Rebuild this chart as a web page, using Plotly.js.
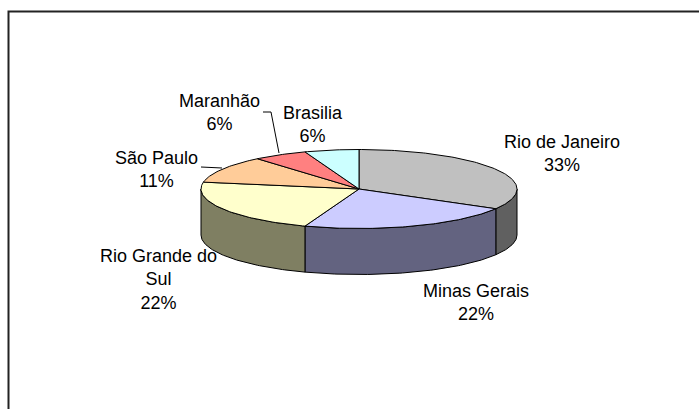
<!DOCTYPE html>
<html>
<head>
<meta charset="utf-8">
<script src="https://cdn.plot.ly/plotly-3.0.1.min.js"></script>
<style>
html,body{margin:0;padding:0;background:#fff;}
#chart{width:699px;height:409px;}
</style>
</head>
<body>
<div id="chart"></div>
<script>
// ---- data ----
const categories = ['Rio de Janeiro', 'Minas Gerais', 'Rio Grande do Sul', 'São Paulo', 'Maranhão', 'Brasilia'];
const values = [6, 4, 4, 2, 1, 1];
const labelLines = ['Rio de Janeiro', 'Minas Gerais', 'Rio Grande do<br>Sul', 'São Paulo', 'Maranhão', 'Brasilia'];

// ---- styles / geometry ----
const topColors = ['#C0C0C0', '#CCCCFF', '#FFFFCC', '#FFCC99', '#FF8080', '#CCFFFF'];
const sideColors = ['#606060', '#636380', '#7F7F62', '#806650', '#804040', '#668080'];
const labelPos = [[562, 153.5], [476, 302.5], [158, 279], [156, 169], [219, 112], [313, 124]];
const geo = {cx: 359, cy: 189, rx: 158, ry: 39.5, depth: 46};

const total = values.reduce((a, b) => a + b, 0);
const deg = Math.PI / 180;
function pt(theta, dy) {
  return [geo.cx + geo.rx * Math.sin(theta * deg), geo.cy - geo.ry * Math.cos(theta * deg) + (dy || 0)];
}
function arc(a1, a2, dy) {
  const pts = [];
  const n = Math.max(2, Math.ceil(Math.abs(a2 - a1)));
  for (let i = 0; i <= n; i++) pts.push(pt(a1 + (a2 - a1) * i / n, dy));
  return pts;
}

// slice angles (clockwise from top)
const starts = [], ends = [];
let acc = 0;
values.forEach(v => { starts.push(acc); acc += v / total * 360; ends.push(acc); });

const traces = [];
// side walls (front-facing portion 90..270)
values.forEach((v, i) => {
  const a1 = Math.max(starts[i], 90), a2 = Math.min(ends[i], 270);
  if (a2 <= a1) return;
  const top = arc(a1, a2, 0);
  const bot = arc(a2, a1, geo.depth);
  const all = top.concat(bot);
  all.push(top[0]);
  traces.push({
    type: 'scatter', mode: 'lines', fill: 'toself', fillcolor: sideColors[i],
    x: all.map(p => p[0]), y: all.map(p => p[1]),
    line: {color: '#000', width: 1}, hoverinfo: 'skip', showlegend: false
  });
});
// top faces
values.forEach((v, i) => {
  const a = arc(starts[i], ends[i], 0);
  const all = [[geo.cx, geo.cy]].concat(a, [[geo.cx, geo.cy]]);
  traces.push({
    type: 'scatter', mode: 'lines', fill: 'toself', fillcolor: topColors[i],
    x: all.map(p => p[0]), y: all.map(p => p[1]),
    line: {color: '#000', width: 1}, hoverinfo: 'skip', showlegend: false
  });
});

const annotations = values.map((v, i) => ({
  x: labelPos[i][0], y: labelPos[i][1], xref: 'x', yref: 'y',
  text: labelLines[i] + '<br>' + Math.round(v / total * 100) + '%',
  showarrow: false, xanchor: 'center', yanchor: 'middle', align: 'center',
  font: {family: '"Liberation Sans", Arial, sans-serif', size: 18, color: '#000'}
}));

const shapes = [
  {type: 'rect', xref: 'x', yref: 'y', x0: 8.5, y0: 11.5, x1: 720, y1: 430,
   line: {color: '#222', width: 2}, fillcolor: 'rgba(0,0,0,0)'},
  {type: 'path', xref: 'x', yref: 'y', path: 'M263,112 L271,112 L279,153', line: {color: '#000', width: 1}},
  {type: 'path', xref: 'x', yref: 'y', path: 'M201,167 L222,168', line: {color: '#000', width: 1}}
];

const layout = {
  width: 699, height: 409,
  margin: {l: 0, r: 0, t: 0, b: 0},
  paper_bgcolor: '#fff', plot_bgcolor: '#fff',
  xaxis: {range: [0, 699], visible: false, fixedrange: true},
  yaxis: {range: [409, 0], visible: false, fixedrange: true},
  showlegend: false,
  annotations: annotations,
  shapes: shapes
};
Plotly.newPlot('chart', traces, layout, {staticPlot: true});
</script>
</body>
</html>
